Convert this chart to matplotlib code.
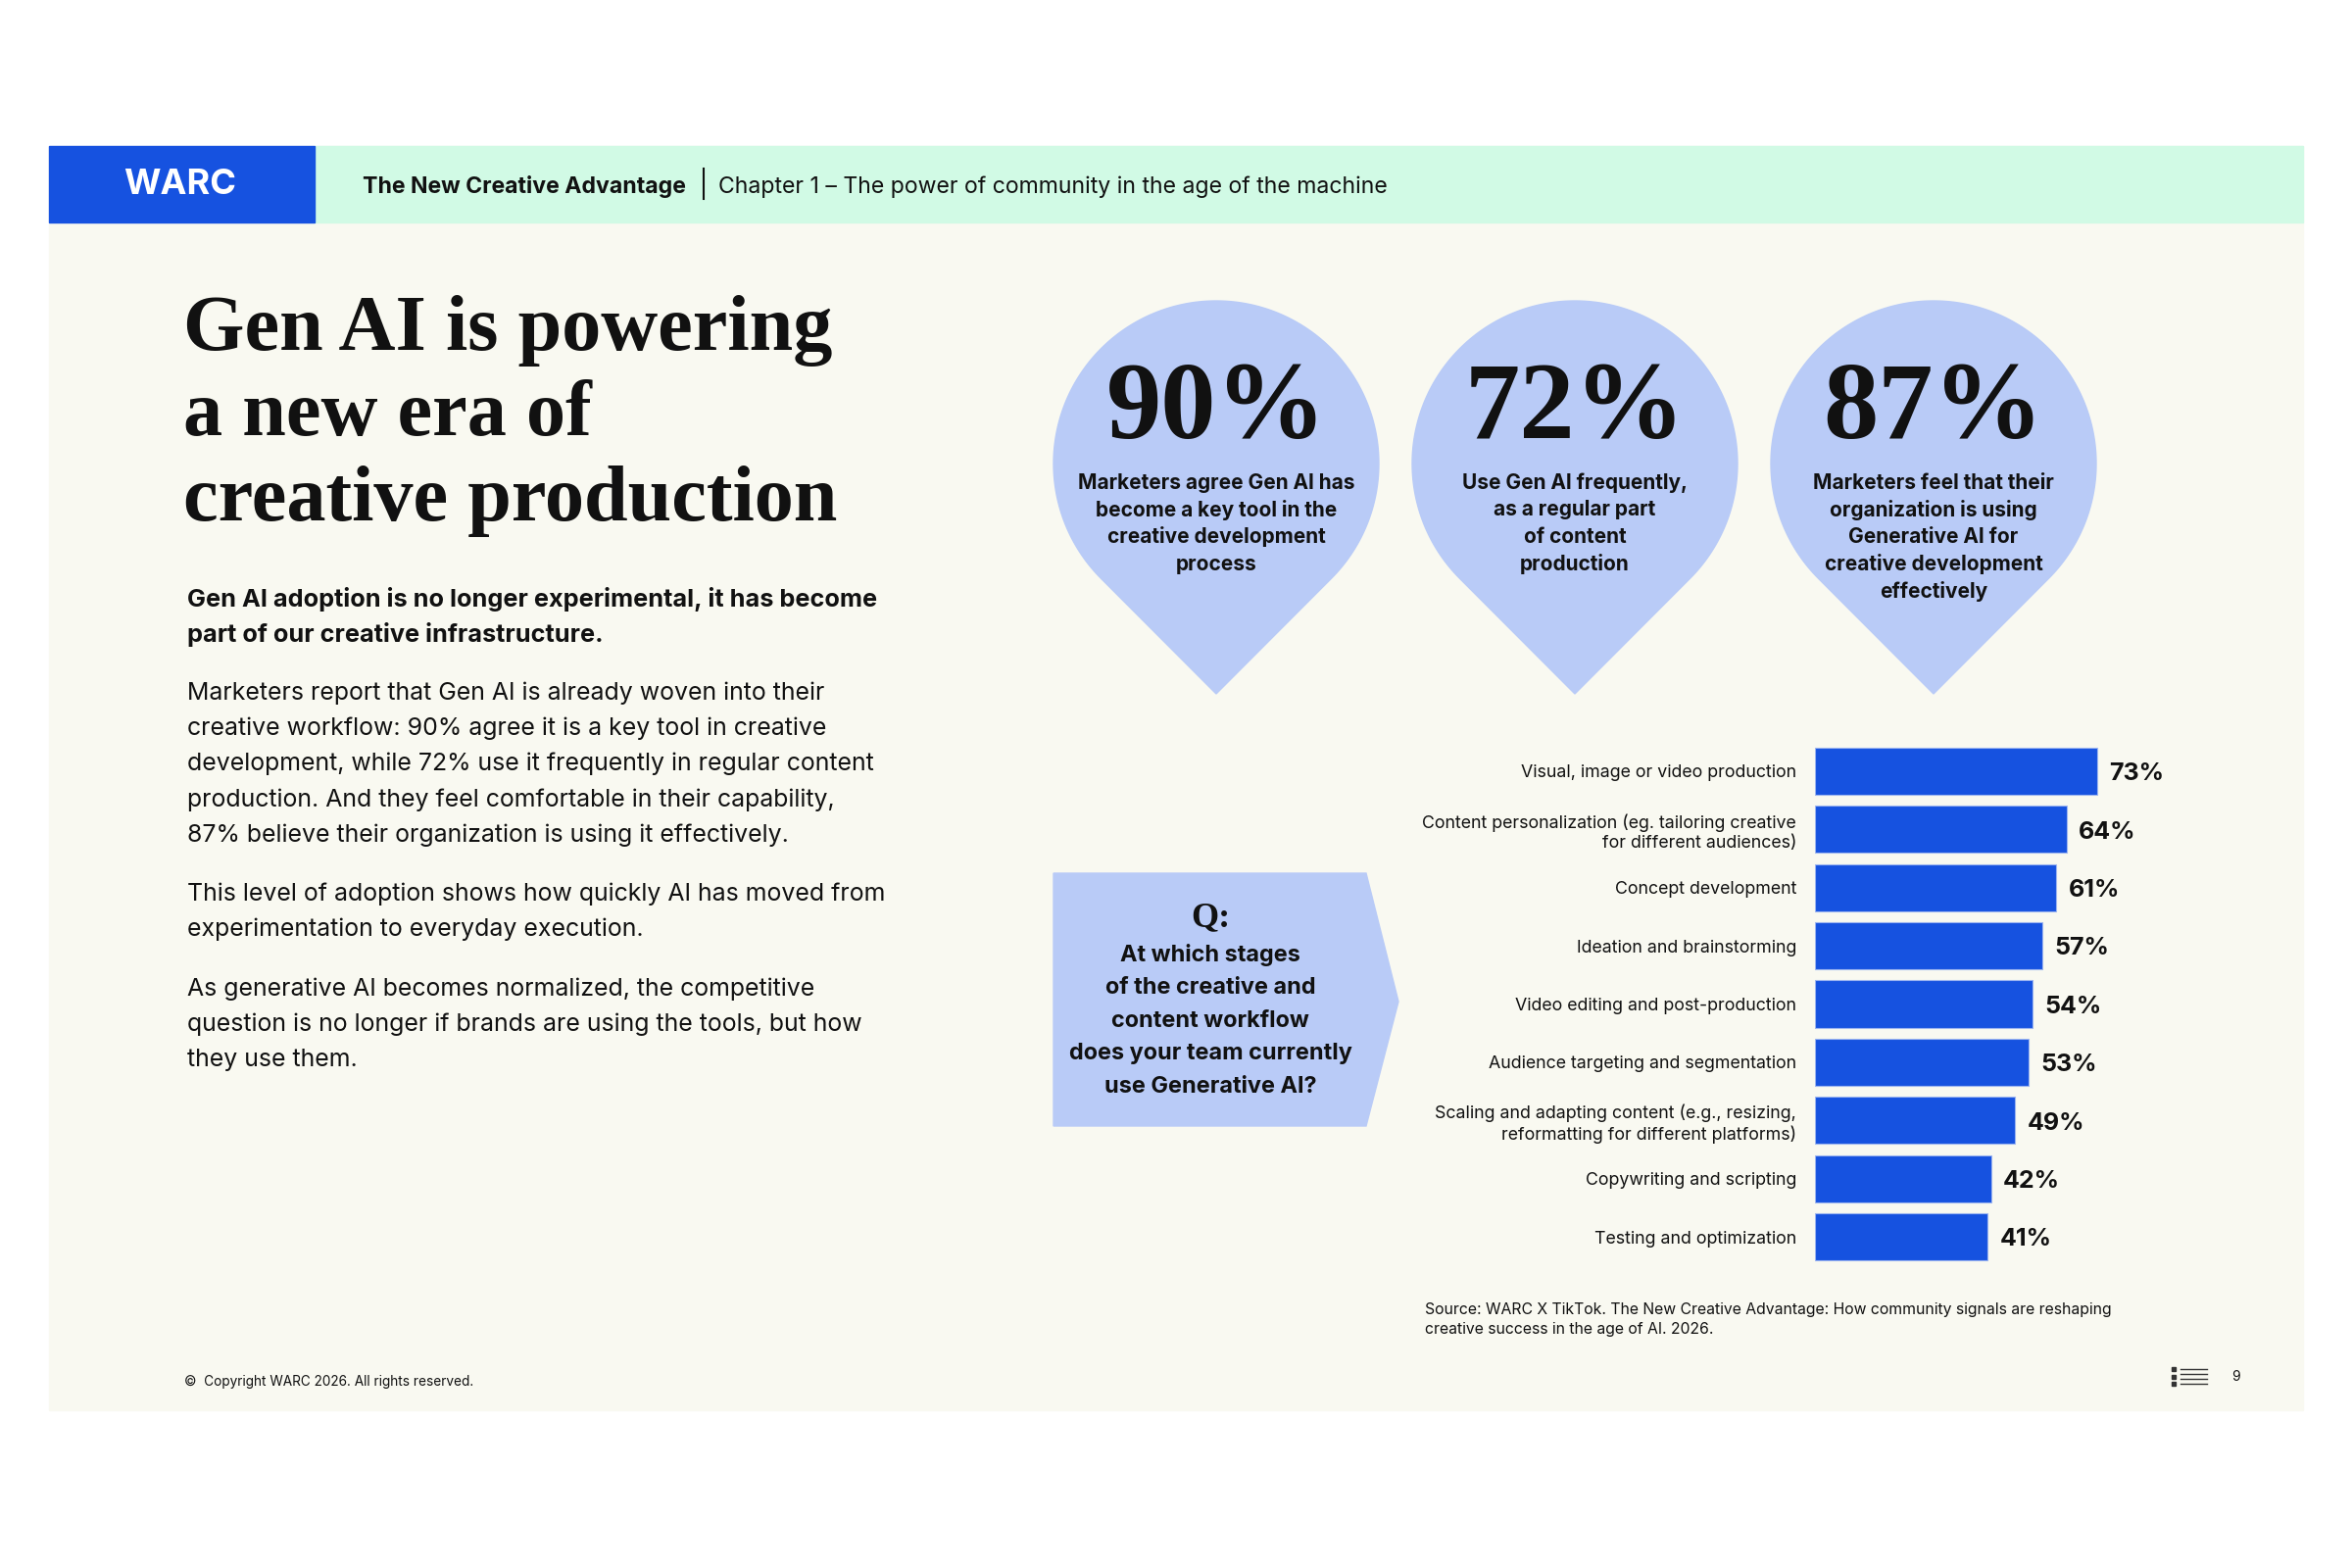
import numpy as np
import matplotlib
matplotlib.use("Agg")
import matplotlib.pyplot as plt
from matplotlib.patches import Polygon, Rectangle

plt.rcParams['font.family'] = ['Inter', 'DejaVu Sans']

# ---- data -------------------------------------------------------------
categories = [
    "Visual, image or video production",
    "Content personalization (eg. tailoring creative\nfor different audiences)",
    "Concept development",
    "Ideation and brainstorming",
    "Video editing and post-production",
    "Audience targeting and segmentation",
    "Scaling and adapting content (e.g., resizing,\nreformatting for different platforms)",
    "Copywriting and scripting",
    "Testing and optimization",
]
values = [73, 64, 61, 57, 54, 53, 49, 42, 41]

stat_values = ["90%", "72%", "87%"]
stat_captions = [
    ["Marketers agree Gen AI has", "become a key tool in the",
     "creative development", "process"],
    ["Use Gen AI frequently,", "as a regular part", "of content", "production"],
    ["Marketers feel that their", "organization is using",
     "Generative AI for", "creative development", "effectively"],
]

title_lines = ["Gen AI is powering", "a new era of", "creative production"]
lead_lines = ["Gen AI adoption is no longer experimental, it has become",
              "part of our creative infrastructure."]
body_paras = [
    ["Marketers report that Gen AI is already woven into their",
     "creative workflow: 90% agree it is a key tool in creative",
     "development, while 72% use it frequently in regular content",
     "production. And they feel comfortable in their capability,",
     "87% believe their organization is using it effectively."],
    ["This level of adoption shows how quickly AI has moved from",
     "experimentation to everyday execution."],
    ["As generative AI becomes normalized, the competitive",
     "question is no longer if brands are using the tools, but how",
     "they use them."],
]
question_lines = ["At which stages", "of the creative and", "content workflow",
                  "does your team currently", "use Generative AI?"]
source_lines = ["Source: WARC X TikTok. The New Creative Advantage: How community signals are reshaping",
                "creative success in the age of AI. 2026."]

# ---- style ------------------------------------------------------------
BLUE = "#1652E0"
MINT = "#D1FAE5"
CREAM = "#F9F9F1"
BUBBLE = "#B9CBF7"
INK = "#111111"
SERIF = "Liberation Serif"

W, H = 2400, 1600
fig = plt.figure(figsize=(24, 16), dpi=100)
fig.patch.set_facecolor("white")

bg = fig.add_axes([0, 0, 1, 1])
bg.set_xlim(0, W)
bg.set_ylim(H, 0)
bg.axis("off")

# panel + header
bg.add_patch(Rectangle((50, 149), 2300, 1290, color=CREAM, zorder=0))
bg.add_patch(Rectangle((321, 149), 2029, 78, color=MINT, zorder=1))
bg.add_patch(Rectangle((50, 149), 271, 78, color=BLUE, zorder=1))
bg.text(184, 189, "WARC", color="white", fontsize=26, fontweight="bold",
        ha="center", va="center")
bg.text(370, 191, "The New Creative Advantage", color=INK, fontsize=16.6,
        fontweight="bold", ha="left", va="center")
bg.plot([718, 718], [172, 203], color=INK, lw=1.5)
bg.text(733, 191, "Chapter 1 \u2013 The power of community in the age of the machine",
        color=INK, fontsize=16.6, ha="left", va="center")

# title
for i, line in enumerate(title_lines):
    bg.text(187, 357 + i * 87, line, family=SERIF, fontweight="bold",
            fontsize=57.8, color=INK, ha="left", va="baseline")

# lead + body
for i, line in enumerate(lead_lines):
    bg.text(191, 611 + i * 36, line, fontsize=18.2, fontweight="bold",
            color=INK, ha="left", va="center")
para_top = [707, 912, 1009]
for top, para in zip(para_top, body_paras):
    for i, line in enumerate(para):
        bg.text(191, top + i * 36.3, line, fontsize=17.9, color=INK,
                ha="left", va="center")

# stat bubbles
R, D = 166, 235
phi = np.arccos(R / D)
for k, cx in enumerate([1241, 1607, 1973]):
    cy = 473
    a = np.linspace(phi, 2 * np.pi - phi, 200)
    pts = np.column_stack([cx + R * np.sin(a), cy + R * np.cos(a)])
    pts = np.vstack([pts, [cx, cy + D]])
    bg.add_patch(Polygon(pts, closed=True, color=BUBBLE, zorder=2))
    bg.text(cx, 447, stat_values[k], family=SERIF, fontweight="bold",
            fontsize=81, color=INK, ha="center", va="baseline", zorder=3)
    for i, line in enumerate(stat_captions[k]):
        bg.text(cx, 493 + i * 27.5, line, fontsize=15, fontweight="bold",
                color=INK, ha="center", va="center", zorder=3)

# question box
qbox = [(1075, 891), (1394, 891), (1427, 1022), (1394, 1149), (1075, 1149)]
bg.add_patch(Polygon(qbox, closed=True, color=BUBBLE, zorder=2))
bg.text(1235, 937, "Q:", family=SERIF, fontweight="bold", fontsize=26,
        color=INK, ha="center", va="center", zorder=3)
for i, line in enumerate(question_lines):
    bg.text(1235, 974 + i * 33.8, line, fontsize=16.9, fontweight="bold",
            color=INK, ha="center", va="center", zorder=3)

# bar chart
BAR_BASE = -9.3          # bars start left of zero in the original layout
PX_PER_UNIT = 3.5
ax_left, ax_w = 1852, 400
pitch = 59.4
y_top = 787 - pitch / 2
y_bot = 1262 + pitch / 2
ax = fig.add_axes([ax_left / W, 1 - y_bot / H, ax_w / W, (y_bot - y_top) / H])
ax.set_facecolor("none")
ypos = np.arange(len(categories))
bars = ax.barh(ypos, np.array(values) - BAR_BASE, left=BAR_BASE, height=0.81,
               color=BLUE, edgecolor="#9DB5F0", linewidth=0.8)
ax.set_xlim(BAR_BASE, BAR_BASE + ax_w / PX_PER_UNIT)
ax.set_ylim(len(categories) - 0.5, -0.5)
ax.set_yticks(ypos, categories, fontsize=12.8, color=INK, linespacing=1.2)
ax.tick_params(axis="y", length=0, pad=13.5)
ax.set_xticks([])
for s in ax.spines.values():
    s.set_visible(False)
for i, v in enumerate(values):
    ax.annotate(f"{v}%", (v, i), xytext=(9, -2), textcoords="offset points",
                fontsize=18, fontweight="bold", color=INK,
                ha="left", va="center")

# source + footer
for i, line in enumerate(source_lines):
    bg.text(1454, 1337 + i * 20, line, fontsize=11.35, color=INK,
            ha="left", va="center")
bg.text(188, 1410, "\u00a9  Copyright WARC 2026. All rights reserved.",
        fontsize=9.8, color=INK, ha="left", va="center")
bg.text(2281, 1405, "9", fontsize=10, color=INK, ha="center", va="center")
for yy in [1397, 1402, 1407, 1412]:
    bg.plot([2225, 2252], [yy, yy], color="#333333", lw=1)
for yy in [1397, 1404.5, 1412]:
    bg.plot([2218], [yy], marker="s", ms=2.5, color="#333333")

fig.savefig("out.png", dpi=100, facecolor="white")
